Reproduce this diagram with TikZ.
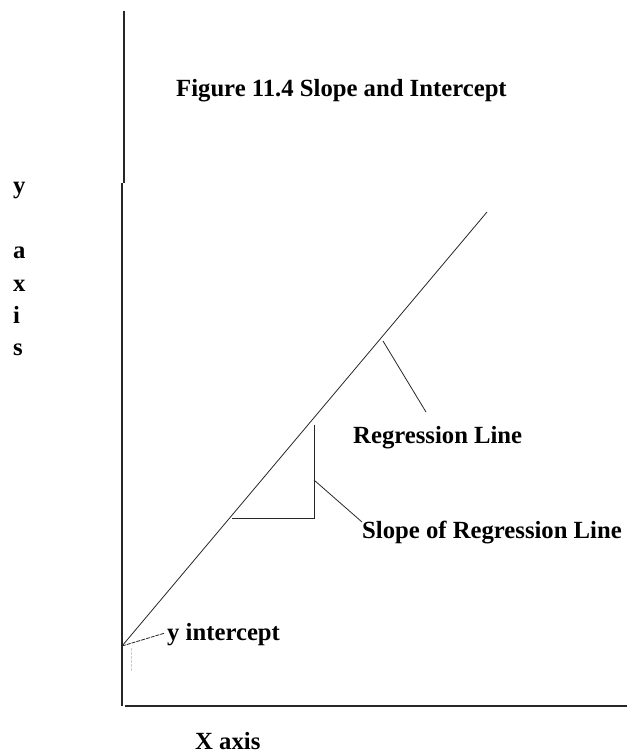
\documentclass[tikz,border=0pt]{standalone}
\usepackage{fontspec}
\setmainfont{Liberation Serif}
\begin{document}
\begin{tikzpicture}[x=1pt,y=-1pt,
  lbl/.style={inner sep=0pt,anchor=base west,font=\bfseries\fontsize{24.7}{28}\selectfont},
  axisline/.style={line width=1.2pt,black!85},
  thin/.style={line width=0.8pt,black!85}]
\useasboundingbox (0,0) rectangle (627,756);
% axes
\coordinate (ytop) at (124,11);
\coordinate (ybrk1) at (124,183);
\coordinate (ybrk2) at (122,183);
\coordinate (yorg) at (122,706);
\coordinate (xorg) at (125,706);
\coordinate (xend) at (627,706);
\draw[axisline] (ytop) -- (ybrk1);
\draw[axisline] (ybrk2) -- (yorg);
\draw[axisline] (xorg) -- (xend);
% regression line
\coordinate (rstart) at (122,646);
\coordinate (rend) at (487,212);
\draw[thin] (rstart) -- (rend);
% slope triangle
\coordinate (tA) at (232,518);
\coordinate (tB) at (314,518);
\coordinate (tC) at (314,425);
\draw[axisline,line width=1pt] (tA) -- (tB) -- (tC);
% labels
\node[lbl] (title) at (176,96) {Figure 11.4 Slope and Intercept};
\node[lbl] (ly) at (13,193) {y};
\node[lbl] (la) at (13,258) {a};
\node[lbl] (lx) at (13,291) {x};
\node[lbl] (li) at (13,323) {i};
\node[lbl] (ls) at (13,355) {s};
\node[lbl] (reg) at (353,443) {Regression Line};
\node[lbl] (slope) at (362,538) {Slope of Regression Line};
\node[lbl] (yint) at (167,640) {y intercept};
\node[lbl] (xax) at (195,749) {X axis};
% pointers
\coordinate (rp) at (383,341);
\coordinate (rq) at (426,412);
\draw[thin] (rp) -- (rq);
\coordinate (sp) at (314,480);
\coordinate (sq) at (362,522);
\draw[thin] (sp) -- (sq);
\coordinate (yq) at (165,633);
\draw[thin,dash pattern=on 4pt off 1pt] (rstart) -- (yq);
\coordinate (g1) at (131,648);
\coordinate (g2) at (131,672);
\draw[black!20,line width=0.8pt,dash pattern=on 3pt off 1pt] (g1) -- (g2);
\end{tikzpicture}
\end{document}
